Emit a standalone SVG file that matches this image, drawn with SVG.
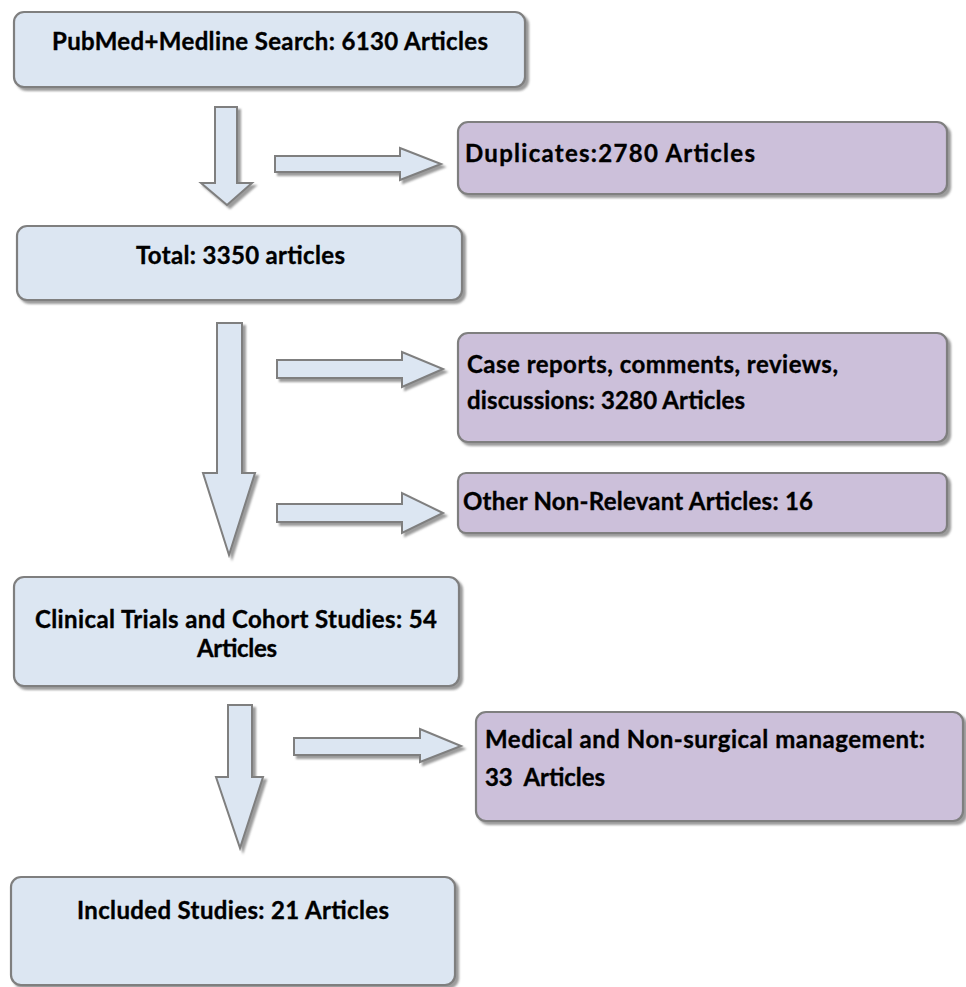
<svg xmlns="http://www.w3.org/2000/svg" width="966" height="987" viewBox="0 0 966 987">
<defs>
<filter id="sh" x="-10%" y="-10%" width="130%" height="140%">
<feDropShadow dx="3" dy="3" stdDeviation="1.2" flood-color="#7a7a7a" flood-opacity="0.75"/>
</filter>
</defs>
<style>
.blue{fill:#dce6f2;stroke:#7f7f7f;stroke-width:2.2;filter:url(#sh)}
.purple{fill:#ccc0da;stroke:#7f7f7f;stroke-width:2.2;filter:url(#sh)}
.arr{fill:#dce6f2;stroke:#7f7f7f;stroke-width:2;stroke-linejoin:miter;filter:url(#sh)}
text{font-family:Lato,"Open Sans","Liberation Sans",sans-serif;font-weight:bold;font-size:24px;fill:#000;stroke:#000;stroke-width:0.35px}
</style>
<rect width="966" height="987" fill="#fff"/>
<g id="connectors">
<polygon class="arr" points="215,107 237,107 237,183 252,183 227,205 201,183 215,183"/>
<polygon class="arr" points="275,156 400,156 400,148 441,164 400,180 400,172 275,172"/>
<polygon class="arr" points="217,323 242,323 242,473 255,473 229,555 203,473 217,473"/>
<polygon class="arr" points="277,360 402,360 402,352 443,369 402,387 402,378 277,378"/>
<polygon class="arr" points="277,504 402,504 402,493 443,513 402,533 402,522 277,522"/>
<polygon class="arr" points="228,705 252,705 252,777 263,777 240,848 216,777 228,777"/>
<polygon class="arr" points="294,738 420,738 420,729 461,746 420,762 420,755 294,755"/>
</g>
<g id="search">
<rect class="blue" x="14" y="12" width="511" height="75" rx="10"/>
<text x="52" y="50" textLength="436">PubMed+Medline Search: 6130 Articles</text>
</g>
<g id="duplicates">
<rect class="purple" x="458" y="122" width="489" height="72" rx="10"/>
<text x="465" y="162" textLength="290">Duplicates:2780 Articles</text>
</g>
<g id="total">
<rect class="blue" x="17" y="226" width="445" height="74" rx="10"/>
<text x="136" y="264" textLength="209">Total: 3350 articles</text>
</g>
<g id="case-reports">
<rect class="purple" x="458" y="333" width="489" height="109" rx="10"/>
<text x="467" y="373" textLength="371">Case reports, comments, reviews,</text>
<text x="467" y="409" textLength="278">discussions: 3280 Articles</text>
</g>
<g id="other">
<rect class="purple" x="458" y="473" width="489" height="60" rx="8"/>
<text x="463" y="510" textLength="350">Other Non-Relevant Articles: 16</text>
</g>
<g id="clinical">
<rect class="blue" x="14" y="577" width="445" height="109" rx="10"/>
<text x="35" y="628" textLength="402">Clinical Trials and Cohort Studies: 54</text>
<text x="197" y="657" textLength="80">Articles</text>
</g>
<g id="medical">
<rect class="purple" x="476" y="712" width="487" height="109" rx="10"/>
<text x="485" y="748" textLength="440">Medical and Non-surgical management:</text>
<text x="485" y="786" textLength="120" xml:space="preserve">33  Articles</text>
</g>
<g id="included">
<rect class="blue" x="11" y="877" width="444" height="108" rx="10"/>
<text x="77" y="919" textLength="312">Included Studies: 21 Articles</text>
</g>
</svg>
